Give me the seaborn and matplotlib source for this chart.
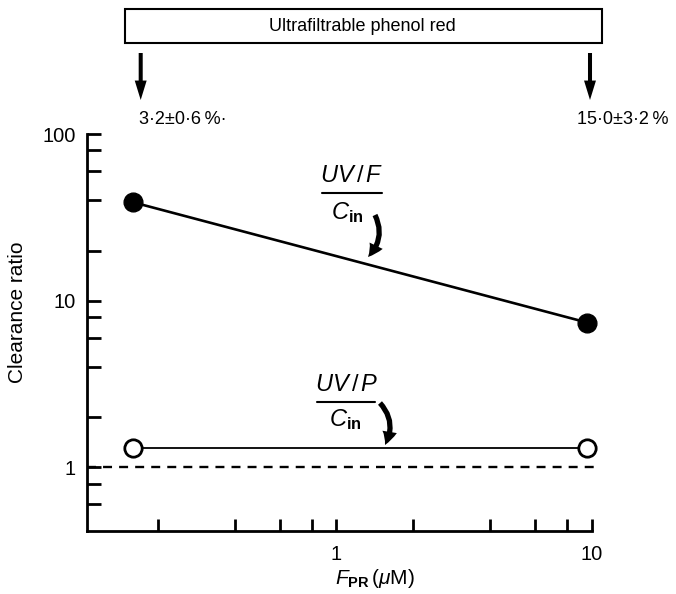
import matplotlib
matplotlib.use("Agg")
import matplotlib.pyplot as plt
from matplotlib import font_manager as fm
from matplotlib.patches import Rectangle, FancyArrowPatch
from matplotlib.lines import Line2D
from matplotlib.ticker import FixedLocator, NullFormatter
import seaborn as sns
import pandas as pd

# Free (ultrafiltrable) phenol red concentration, µM
fpr = [0.16, 9.6]
# Clearance ratios
uvf_cin = [38.9, 7.4]
uvp_cin = [1.3, 1.3]
# Ultrafiltrable fraction at each end
ultra_labels = ["3·2±0·6\u2009%·", "15·0±3·2\u2009%"]

x_major = [1, 10]
x_minor = [0.2, 0.4, 0.6, 0.8, 2, 4, 6, 8]
y_major = [1, 10, 100]
y_minor = [0.6, 0.8, 2, 4, 6, 8, 20, 40, 60, 80]

sns.set_theme(style="ticks")


def has_font(name):
    try:
        fm.findfont(fm.FontProperties(family=name), fallback_to_default=False)
        return True
    except Exception:
        return False


base = "Liberation Sans Narrow" if has_font("Liberation Sans Narrow") else "Liberation Sans"
plt.rcParams["font.family"] = [base, "DejaVu Sans"]
plt.rcParams["mathtext.fontset"] = "custom"
plt.rcParams["mathtext.rm"] = base
plt.rcParams["mathtext.it"] = base + ":italic"
plt.rcParams["mathtext.bf"] = base + ":bold"

W, H = 676, 594
fig = plt.figure(figsize=(W / 100, H / 100), dpi=100)
fig.patch.set_facecolor("white")


def fpx(x, y):
    return (x / W, 1 - y / H)


ax_l, ax_r, ax_t, ax_b = 86.7, 591.7, 134, 531
ax = fig.add_axes([ax_l / W, 1 - ax_b / H, (ax_r - ax_l) / W, (ax_b - ax_t) / H])
ax.set_facecolor("white")

df = pd.DataFrame({"fpr": fpr, "uvf": uvf_cin, "uvp": uvp_cin})

sns.lineplot(data=df, x="fpr", y="uvf", ax=ax, color="black", lw=1.9,
             marker="o", markersize=13.5, markerfacecolor="black",
             markeredgecolor="black", markeredgewidth=1, zorder=3, clip_on=False)
sns.lineplot(data=df, x="fpr", y="uvp", ax=ax, color="black", lw=1.3,
             marker="o", markersize=12.5, markerfacecolor="white",
             markeredgecolor="black", markeredgewidth=2.0, zorder=3, clip_on=False)

ax.set_xscale("log")
ax.set_yscale("log")
ax.set_xlim(0.105, 10)
ax.set_ylim(0.416, 100)

# unity reference line, running slightly past the axis end
ax.plot([0.105, 10.78], [1, 1], color="black", lw=1.7, dashes=(3.8, 3.0),
        clip_on=False, zorder=2)

ax.xaxis.set_major_locator(FixedLocator(x_major))
ax.xaxis.set_minor_locator(FixedLocator(x_minor))
ax.yaxis.set_major_locator(FixedLocator(y_major))
ax.yaxis.set_minor_locator(FixedLocator(y_minor))
ax.set_xticklabels([str(v) for v in x_major])
ax.set_yticklabels([str(v) for v in y_major])
ax.xaxis.set_minor_formatter(NullFormatter())
ax.yaxis.set_minor_formatter(NullFormatter())

ax.tick_params(axis="both", which="both", direction="in", width=2.0,
               color="black", labelcolor="black", labelsize=14.5)
ax.tick_params(axis="x", which="both", length=9, pad=10)
ax.tick_params(axis="y", which="both", length=10, pad=8)

for side in ["top", "right"]:
    ax.spines[side].set_visible(False)
for side in ["left", "bottom"]:
    ax.spines[side].set_linewidth(2.0)
    ax.spines[side].set_color("black")

ax.set_xlabel("")
ax.set_ylabel("Clearance ratio", fontsize=15, color="black")
ax.yaxis.set_label_coords(-0.118, 0.552)

fig.text(*fpx(335, 579), r"$F_{\mathbf{PR}}\,(\mu\mathrm{M})$", fontsize=15,
         ha="left", va="center", color="black")

# header box
bx0, by0 = fpx(125, 43.3)
bx1, by1 = fpx(601.7, 9.3)
fig.add_artist(Rectangle((bx0, by0), bx1 - bx0, by1 - by0, transform=fig.transFigure,
                         facecolor="white", edgecolor="black", lw=1.5))
fig.text(*fpx(362, 26.5), "Ultrafiltrable phenol red", fontsize=13,
         ha="center", va="center", color="black")

# straight arrows down to the percentage labels
for xa in (140.7, 590):
    fig.add_artist(FancyArrowPatch(fpx(xa, 53), fpx(xa, 100),
                                   transform=fig.transFigure,
                                   arrowstyle="simple,head_length=14,head_width=8.6,tail_width=2.9",
                                   mutation_scale=1, shrinkA=0, shrinkB=0,
                                   color="black", lw=0))

fig.text(*fpx(139, 120), ultra_labels[0], fontsize=13, ha="left", va="center", color="black")
fig.text(*fpx(577, 120), ultra_labels[1], fontsize=13, ha="left", va="center", color="black")


# fraction labels with curved pointers
def fraction(cx, num, bar_y, bar_x0, bar_x1, den_x, num_y, den_y):
    fig.text(*fpx(cx, num_y), num, fontsize=17, ha="center", va="center", color="black")
    x0, y0 = fpx(bar_x0, bar_y)
    x1, _ = fpx(bar_x1, bar_y)
    fig.add_artist(Line2D([x0, x1], [y0, y0], transform=fig.transFigure,
                          color="black", lw=1.5))
    fig.text(*fpx(den_x, den_y), r"$C_{\mathbf{in}}$", fontsize=17,
             ha="center", va="center", color="black")


fraction(351.7, r"$UV\,/\,F$", 192.7, 321.7, 381.7, 347, 176, 213)
fraction(347, r"$UV\,/\,P$", 401.7, 317, 375, 345, 385, 420)

for start, end in [((375, 215), (368, 257)), ((380, 403), (385, 445))]:
    fig.add_artist(FancyArrowPatch(fpx(*start), fpx(*end), transform=fig.transFigure,
                                   connectionstyle="arc3,rad=-0.35",
                                   arrowstyle="simple,head_length=10,head_width=10.5,tail_width=3.8",
                                   mutation_scale=1, shrinkA=0, shrinkB=0,
                                   color="black", lw=0))

fig.savefig("out.png", dpi=100, facecolor="white")
